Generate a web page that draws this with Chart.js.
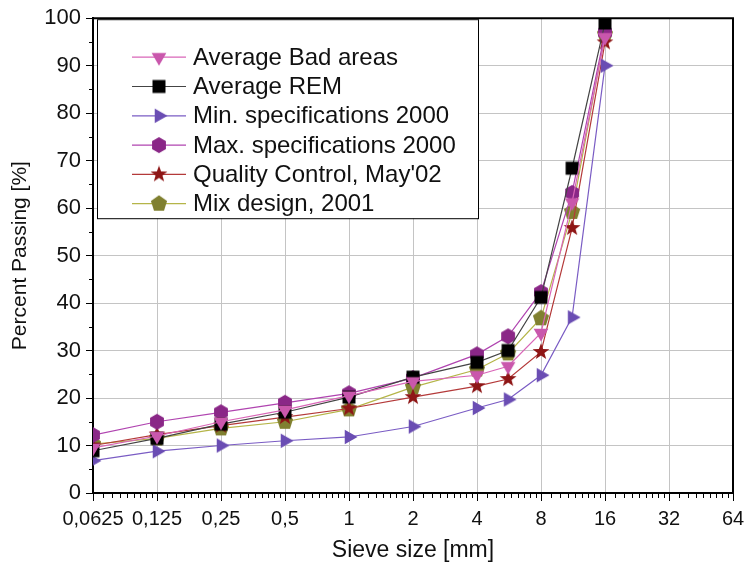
<!DOCTYPE html>
<html>
<head>
<meta charset="utf-8">
<script src="https://cdn.jsdelivr.net/npm/chart.js@4"></script>
<style>
  html, body { margin:0; padding:0; background:#fff; }
  #wrap { width:745px; height:568px; }
</style>
</head>
<body>
<div id="wrap"><canvas id="c" width="745" height="568"></canvas></div>
<script>
// sieve sizes (mm)
const sieves = [0.0625, 0.125, 0.25, 0.5, 1, 2, 4, 5.6, 8, 11.2, 16];
const badAreas = [9.5, 12, 15, 17.5, 20.5, 23.5, 24.8, 26.7, 33.7, 61.2, 96];
const avgRem   = [8.9, 11.5, 14.5, 17, 20.2, 24.4, 27.5, 30, 41.2, 68.4, 99];
const minSpec  = [6.8, 8.8, 10, 11, 11.8, 14, 17.9, 19.7, 24.8, 37, 90];
const maxSpec  = [12.2, 15, 17, 19, 21, 24.2, 29.2, 33, 42.3, 63.2, 97];
const qualCtrl = [10, 12.3, 14.2, 16, 17.8, 20.2, 22.5, 24, 29.7, 55.8, 94.9];
const mixDesign= [10.3, 11.5, 13.6, 15, 17.6, 22.3, 26, 29.4, 36.8, 59.2, 96.6];
const seriesNames = ['Average Bad areas', 'Average REM', 'Min. specifications 2000',
                     'Max. specifications 2000', "Quality Control, May'02", 'Mix design, 2001'];
const xTicks = [0.0625, 0.125, 0.25, 0.5, 1, 2, 4, 8, 16, 32, 64];
const xTickLabels = ['0,0625', '0,125', '0,25', '0,5', '1', '2', '4', '8', '16', '32', '64'];
const yTicks = [0, 10, 20, 30, 40, 50, 60, 70, 80, 90, 100];

// marker images
function marker(shape, color) {
  const s = 18, c = document.createElement('canvas');
  c.width = s; c.height = s;
  const g = c.getContext('2d');
  g.fillStyle = color;
  g.translate(s/2, s/2);
  g.beginPath();
  const poly = (n, r, rot) => {
    for (let i = 0; i < n; i++) {
      const a = rot + i * 2 * Math.PI / n;
      const px = r * Math.cos(a), py = r * Math.sin(a);
      i ? g.lineTo(px, py) : g.moveTo(px, py);
    }
  };
  if (shape === 'down') poly(3, 8.5, Math.PI/2);
  else if (shape === 'right') poly(3, 8.5, 0);
  else if (shape === 'square') g.rect(-6.5, -6.5, 13, 13);
  else if (shape === 'hex') poly(6, 8, -Math.PI/2);
  else if (shape === 'pent') poly(5, 8.5, -Math.PI/2);
  else if (shape === 'star') {
    for (let i = 0; i < 10; i++) {
      const r = i % 2 ? 3.6 : 8.8;
      const a = -Math.PI/2 + i * Math.PI / 5;
      i ? g.lineTo(r*Math.cos(a), r*Math.sin(a)) : g.moveTo(r*Math.cos(a), r*Math.sin(a));
    }
  }
  g.closePath();
  g.fill();
  return c;
}

const styles = [
  {line:'#d966b8', mk:marker('down', '#c957ac')},
  {line:'#444444', mk:marker('square', '#000000')},
  {line:'#7a5cc4', mk:marker('right', '#6a4db3')},
  {line:'#b044b0', mk:marker('hex', '#8a2787')},
  {line:'#b43a3a', mk:marker('star', '#8e1616')},
  {line:'#b5b548', mk:marker('pent', '#808030')}
];
const values = [badAreas, avgRem, minSpec, maxSpec, qualCtrl, mixDesign];

const datasets = values.map((v, i) => ({
  label: seriesNames[i],
  data: sieves.map((s, j) => ({x: s, y: v[j]})),
  borderColor: styles[i].line,
  borderWidth: 1.2,
  pointStyle: styles[i].mk,
  pointRadius: 8,
  pointHoverRadius: 8,
  tension: 0,
  fill: false
}));

const axisFont = "'Liberation Sans Narrow', 'Liberation Sans', Arial, sans-serif";
const yFont = "'Liberation Sans', Arial, sans-serif";

// minor ticks, frame and legend box
const decor = {
  id: 'decor',
  afterDraw(chart) {
    const {ctx, chartArea: a, scales: {x, y}} = chart;
    ctx.save();
    ctx.strokeStyle = '#000';
    ctx.lineWidth = 1;
    ctx.beginPath();
    for (let k = 0; k < xTicks.length - 1; k++) {
      for (let i = 1; i <= 8; i++) {
        const px = Math.round(x.getPixelForValue(xTicks[k] * (1 + i / 9))) + 0.5;
        ctx.moveTo(px, a.bottom); ctx.lineTo(px, a.bottom + 5);
      }
    }
    for (let v = 5; v < 100; v += 10) {
      const py = Math.round(y.getPixelForValue(v)) + 0.5;
      ctx.moveTo(a.left, py); ctx.lineTo(a.left - 4, py);
    }
    ctx.stroke();
    // top and right frame
    ctx.lineWidth = 2;
    ctx.beginPath();
    ctx.moveTo(a.left, a.top); ctx.lineTo(a.right, a.top); ctx.lineTo(a.right, a.bottom);
    ctx.stroke();
    // legend
    const lx = a.left + 4, ly = a.top + 1, lw = 381, lh = 199;
    ctx.fillStyle = '#fff';
    ctx.fillRect(lx, ly, lw, lh);
    ctx.lineWidth = 1;
    ctx.strokeStyle = '#000';
    ctx.strokeRect(lx + 0.5, ly + 0.5, lw, lh);
    ctx.font = "24px " + yFont;
    ctx.textBaseline = 'middle';
    chart.data.datasets.forEach((ds, i) => {
      const cy = ly + 38 + i * 29.3;
      ctx.strokeStyle = ds.borderColor;
      ctx.lineWidth = 1.2;
      ctx.beginPath();
      ctx.moveTo(lx + 35, cy); ctx.lineTo(lx + 89, cy);
      ctx.stroke();
      ctx.drawImage(ds.pointStyle, lx + 62 - 9, cy - 9);
      ctx.fillStyle = '#111';
      ctx.fillText(ds.label, lx + 96, cy + 1);
    });
    ctx.restore();
  }
};

new Chart(document.getElementById('c'), {
  type: 'line',
  data: {datasets},
  options: {
    responsive: false,
    animation: false,
    layout: {padding: {top: 17, right: 12, left: 0, bottom: 0}},
    plugins: {legend: {display: false}, tooltip: {enabled: false}},
    scales: {
      x: {
        type: 'logarithmic',
        min: 0.0625, max: 64,
        afterBuildTicks: s => { s.ticks = xTicks.map(v => ({value: v})); },
        afterFit: s => { s.height = 75; s.paddingRight = 0; s.paddingLeft = 0; },
        ticks: {
          autoSkip: false, maxRotation: 0, padding: 6, color: '#111',
          font: {family: axisFont, size: 20},
          callback: (v) => xTickLabels[xTicks.indexOf(v)]
        },
        grid: {color: '#c4c4c4', lineWidth: 1, tickColor: '#000', tickLength: 8},
        border: {color: '#000', width: 2},
        title: {display: true, text: 'Sieve size [mm]', color: '#111',
                font: {family: axisFont, size: 23}, padding: {top: 2}}
      },
      y: {
        min: 0, max: 100,
        afterBuildTicks: s => { s.ticks = yTicks.map(v => ({value: v})); },
        afterFit: s => { s.width = 93; },
        ticks: {padding: 5, color: '#111', font: {family: yFont, size: 22}},
        grid: {color: '#c4c4c4', lineWidth: 1, tickColor: '#000', tickLength: 7},
        border: {color: '#000', width: 2},
        title: {display: true, text: 'Percent Passing [%]', color: '#111',
                font: {family: yFont, size: 21}, padding: {top: 8, bottom: 0}}
      }
    }
  },
  plugins: [decor]
});
</script>
</body>
</html>
